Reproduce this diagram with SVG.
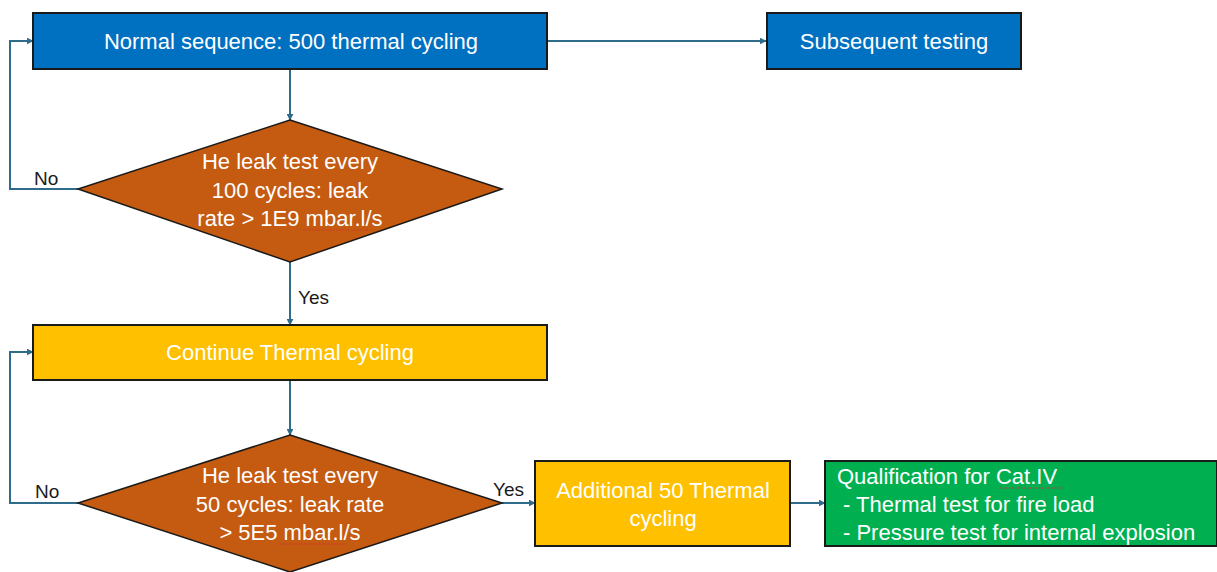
<svg xmlns="http://www.w3.org/2000/svg" width="1217" height="572" viewBox="0 0 1217 572">
<style>
.box{stroke:#1a1a1a;stroke-width:2}
.blue{fill:#0070C0}
.gold{fill:#FFC000}
.green{fill:#00B050}
.dia{fill:#C55A11;stroke:#1a1a1a;stroke-width:1.5}
.t{font-family:"Liberation Sans",Arial,sans-serif;font-size:22px;fill:#ffffff}
.c{text-anchor:middle}
.lbl{font-family:"Liberation Sans",Arial,sans-serif;font-size:19px;fill:#1a1a1a}
.con{fill:none;stroke:#2F6B8A;stroke-width:2}
.sq{fill:none;stroke:#d03030;stroke-width:1;stroke-dasharray:1.5 1.5}
</style>
<defs>
<marker id="ah" viewBox="0 0 10 10" refX="9" refY="5" markerWidth="7" markerHeight="7" orient="auto" markerUnits="userSpaceOnUse">
<path d="M0,0 L10,5 L0,10 z" fill="#2F6B8A"/>
</marker>
</defs>
<rect width="1217" height="572" fill="#ffffff"/>
<g id="connectors">
<path class="con" d="M547,41 H766" marker-end="url(#ah)"/>
<path class="con" d="M290,69 V120" marker-end="url(#ah)"/>
<path class="con" d="M78,189 H10 V41 H33" marker-end="url(#ah)"/>
<path class="con" d="M290,262 V325" marker-end="url(#ah)"/>
<path class="con" d="M290,380 V435" marker-end="url(#ah)"/>
<path class="con" d="M78,503 H10 V352 H33" marker-end="url(#ah)"/>
<path class="con" d="M502,503 H535" marker-end="url(#ah)"/>
<path class="con" d="M790,503 H825" marker-end="url(#ah)"/>
<text class="lbl" x="34" y="185">No</text>
<text class="lbl" x="298" y="304">Yes</text>
<text class="lbl" x="35" y="498">No</text>
<text class="lbl" x="493" y="496">Yes</text>
</g>
<g id="normal">
<rect class="box blue" x="33" y="13" width="514" height="56"/>
<text class="t c" x="291" y="49">Normal sequence: 500 thermal cycling</text>
</g>
<g id="subsequent">
<rect class="box blue" x="767" y="13" width="254" height="56"/>
<text class="t c" x="894" y="49">Subsequent testing</text>
</g>
<g id="test1">
<polygon class="dia" points="290,120 502,189 290,262 78,189"/>
<text class="t c" x="290" y="169">He leak test every</text>
<text class="t c" x="290" y="198">100 cycles: leak</text>
<text class="t c" x="290" y="226">rate &gt; 1E9 mbar.l/s</text>
<path class="sq" d="M303,230 H368"/>
</g>
<g id="continue">
<rect class="box gold" x="33" y="325" width="514" height="55"/>
<text class="t c" x="290" y="360">Continue Thermal cycling</text>
</g>
<g id="test2">
<polygon class="dia" points="290,435 502,503 290,572 78,503"/>
<text class="t c" x="290" y="483">He leak test every</text>
<text class="t c" x="290" y="512">50 cycles: leak rate</text>
<text class="t c" x="290" y="540">&gt; 5E5 mbar.l/s</text>
<path class="sq" d="M280,544 H346"/>
</g>
<g id="additional">
<rect class="box gold" x="535" y="461" width="255" height="85"/>
<text class="t c" x="663" y="498">Additional 50 Thermal</text>
<text class="t c" x="663" y="526">cycling</text>
</g>
<g id="qualification">
<rect class="box green" x="825" y="461" width="392" height="85"/>
<text class="t" x="837" y="484">Qualification for Cat.IV</text>
<text class="t" x="843" y="512">- Thermal test for fire load</text>
<text class="t" x="843" y="540">- Pressure test for internal explosion</text>
<path class="sq" d="M1000,488 H1063"/>
</g>
</svg>
